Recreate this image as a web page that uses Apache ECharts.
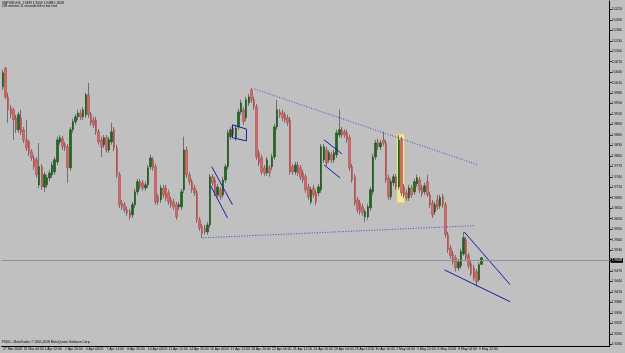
<!DOCTYPE html>
<html><head><meta charset="utf-8">
<script src="https://cdn.jsdelivr.net/npm/echarts@6/dist/echarts.min.js"></script>
<style>html,body{margin:0;padding:0;background:#c0c0c0}#c{width:625px;height:353px}</style>
</head><body><div id="c"></div>
<script>
const openP = [1.9998,2.0052,1.9969,1.9938,1.9932,1.9909,1.9875,1.9909,1.9875,1.9846,
1.9840,1.9812,1.9794,1.9789,1.9717,1.9769,1.9711,1.9717,1.9737,1.9746,
1.9754,1.9783,1.9840,1.9849,1.9832,1.9826,1.9766,1.9875,1.9898,1.9912,
1.9923,1.9912,1.9918,1.9975,1.9918,1.9903,1.9903,1.9869,1.9846,1.9832,
1.9852,1.9817,1.9840,1.9875,1.9823,1.9746,1.9665,1.9660,1.9645,1.9640,
1.9631,1.9660,1.9697,1.9726,1.9723,1.9708,1.9717,1.9769,1.9789,1.9769,
1.9683,1.9674,1.9708,1.9708,1.9694,1.9674,1.9668,1.9660,1.9654,1.9654,
1.9703,1.9817,1.9746,1.9726,1.9708,1.9694,1.9617,1.9597,1.9594,1.9582,
1.9602,1.9740,1.9731,1.9688,1.9703,1.9688,1.9731,1.9769,1.9855,1.9880,
1.9852,1.9883,1.9926,1.9932,1.9909,1.9952,1.9989,1.9961,1.9940,1.9809,
1.9794,1.9766,1.9751,1.9766,1.9769,1.9797,1.9883,1.9926,1.9923,1.9918,
1.9909,1.9903,1.9769,1.9754,1.9774,1.9766,1.9751,1.9740,1.9711,1.9668,
1.9708,1.9694,1.9694,1.9703,1.9789,1.9817,1.9789,1.9803,1.9789,1.9803,
1.9860,1.9875,1.9869,1.9866,1.9852,1.9769,1.9740,1.9674,1.9665,1.9654,
1.9625,1.9625,1.9651,1.9697,1.9797,1.9840,1.9826,1.9846,1.9837,1.9737,
1.9683,1.9723,1.9740,1.9711,1.9846,1.9711,1.9694,1.9680,1.9708,1.9697,
1.9720,1.9731,1.9708,1.9697,1.9726,1.9688,1.9665,1.9640,1.9674,1.9657,
1.9683,1.9660,1.9574,1.9536,1.9519,1.9508,1.9479,1.9485,1.9519,1.9559,
1.9514,1.9491,1.9479,1.9468,1.9445,1.9489];
const closeP = [2.0038,1.9969,1.9932,1.9920,1.9903,1.9875,1.9918,1.9869,1.9846,1.9823,
1.9809,1.9794,1.9769,1.9746,1.9769,1.9711,1.9746,1.9737,1.9751,1.9774,
1.9789,1.9846,1.9852,1.9826,1.9823,1.9766,1.9875,1.9898,1.9912,1.9923,
1.9912,1.9932,1.9975,1.9918,1.9895,1.9889,1.9869,1.9840,1.9826,1.9852,
1.9817,1.9846,1.9869,1.9823,1.9746,1.9660,1.9654,1.9645,1.9637,1.9625,
1.9660,1.9697,1.9726,1.9711,1.9708,1.9717,1.9766,1.9794,1.9766,1.9668,
1.9668,1.9708,1.9688,1.9680,1.9668,1.9660,1.9654,1.9625,1.9660,1.9697,
1.9817,1.9746,1.9726,1.9703,1.9694,1.9617,1.9594,1.9579,1.9582,1.9602,
1.9740,1.9723,1.9694,1.9711,1.9683,1.9731,1.9769,1.9866,1.9875,1.9860,
1.9880,1.9926,1.9952,1.9898,1.9961,1.9969,1.9961,1.9940,1.9797,1.9780,
1.9754,1.9751,1.9789,1.9751,1.9797,1.9883,1.9932,1.9918,1.9909,1.9903,
1.9895,1.9754,1.9754,1.9774,1.9751,1.9740,1.9731,1.9703,1.9683,1.9703,
1.9688,1.9668,1.9711,1.9826,1.9826,1.9780,1.9809,1.9789,1.9809,1.9866,
1.9875,1.9860,1.9860,1.9846,1.9766,1.9731,1.9665,1.9645,1.9640,1.9637,
1.9640,1.9654,1.9703,1.9797,1.9837,1.9826,1.9837,1.9837,1.9731,1.9683,
1.9726,1.9740,1.9711,1.9846,1.9694,1.9688,1.9680,1.9708,1.9688,1.9726,
1.9737,1.9703,1.9691,1.9714,1.9688,1.9660,1.9631,1.9660,1.9654,1.9680,
1.9660,1.9574,1.9531,1.9514,1.9496,1.9479,1.9496,1.9525,1.9565,1.9508,
1.9485,1.9462,1.9450,1.9439,1.9488,1.9508];
const lowP = [1.9989,1.9963,1.9895,1.9909,1.9846,1.9866,1.9866,1.9860,1.9837,1.9814,
1.9800,1.9786,1.9760,1.9737,1.9708,1.9703,1.9697,1.9708,1.9728,1.9737,
1.9746,1.9774,1.9832,1.9817,1.9814,1.9723,1.9757,1.9866,1.9889,1.9903,
1.9903,1.9903,1.9909,1.9909,1.9886,1.9880,1.9860,1.9832,1.9797,1.9823,
1.9809,1.9809,1.9832,1.9814,1.9737,1.9651,1.9645,1.9637,1.9628,1.9617,
1.9622,1.9651,1.9688,1.9703,1.9700,1.9700,1.9708,1.9760,1.9757,1.9660,
1.9660,1.9665,1.9680,1.9671,1.9660,1.9651,1.9645,1.9617,1.9645,1.9645,
1.9694,1.9737,1.9717,1.9694,1.9685,1.9608,1.9585,1.9565,1.9574,1.9574,
1.9594,1.9714,1.9685,1.9680,1.9674,1.9680,1.9723,1.9760,1.9846,1.9852,
1.9843,1.9875,1.9918,1.9889,1.9900,1.9943,1.9952,1.9932,1.9789,1.9771,
1.9746,1.9743,1.9743,1.9740,1.9760,1.9789,1.9875,1.9909,1.9900,1.9895,
1.9886,1.9746,1.9746,1.9746,1.9743,1.9731,1.9723,1.9694,1.9674,1.9660,
1.9680,1.9660,1.9685,1.9694,1.9780,1.9771,1.9780,1.9780,1.9780,1.9794,
1.9852,1.9852,1.9852,1.9837,1.9757,1.9723,1.9657,1.9637,1.9631,1.9628,
1.9611,1.9617,1.9642,1.9688,1.9789,1.9817,1.9817,1.9829,1.9723,1.9674,
1.9674,1.9714,1.9703,1.9703,1.9685,1.9680,1.9671,1.9671,1.9680,1.9688,
1.9711,1.9694,1.9683,1.9688,1.9683,1.9651,1.9622,1.9631,1.9645,1.9648,
1.9651,1.9565,1.9522,1.9505,1.9488,1.9468,1.9471,1.9476,1.9514,1.9499,
1.9476,1.9456,1.9442,1.9425,1.9439,1.9488];
const highP = [2.0046,2.0055,1.9981,1.9946,1.9938,1.9918,1.9926,1.9932,1.9883,1.9903,
1.9846,1.9820,1.9803,1.9797,1.9837,1.9777,1.9754,1.9746,1.9760,1.9783,
1.9797,1.9855,1.9860,1.9857,1.9840,1.9834,1.9883,1.9906,1.9920,1.9932,
1.9932,1.9940,1.9981,2.0009,1.9926,1.9912,1.9912,1.9877,1.9855,1.9860,
1.9860,1.9855,1.9895,1.9883,1.9832,1.9754,1.9674,1.9668,1.9654,1.9648,
1.9668,1.9706,1.9734,1.9734,1.9731,1.9726,1.9774,1.9803,1.9797,1.9777,
1.9691,1.9717,1.9717,1.9717,1.9703,1.9683,1.9677,1.9668,1.9668,1.9706,
1.9855,1.9826,1.9754,1.9734,1.9717,1.9703,1.9625,1.9605,1.9602,1.9611,
1.9748,1.9748,1.9740,1.9720,1.9711,1.9740,1.9777,1.9875,1.9883,1.9889,
1.9889,1.9935,1.9961,1.9940,1.9969,1.9978,1.9995,1.9969,1.9949,1.9817,
1.9803,1.9774,1.9797,1.9774,1.9806,1.9892,1.9961,1.9935,1.9932,1.9926,
1.9918,1.9912,1.9777,1.9783,1.9783,1.9774,1.9760,1.9748,1.9720,1.9711,
1.9717,1.9703,1.9720,1.9834,1.9834,1.9826,1.9817,1.9812,1.9817,1.9875,
1.9932,1.9883,1.9877,1.9875,1.9860,1.9777,1.9748,1.9683,1.9674,1.9663,
1.9648,1.9663,1.9711,1.9806,1.9846,1.9849,1.9846,1.9869,1.9846,1.9746,
1.9734,1.9748,1.9748,1.9860,1.9855,1.9720,1.9703,1.9717,1.9717,1.9734,
1.9746,1.9740,1.9717,1.9723,1.9746,1.9697,1.9674,1.9668,1.9688,1.9688,
1.9691,1.9668,1.9582,1.9545,1.9528,1.9516,1.9505,1.9534,1.9582,1.9568,
1.9522,1.9499,1.9488,1.9476,1.9494,1.9509];

const xTickLabels = ['27 Mar 2008','31 Mar 04:00','1 Apr 12:00','2 Apr 20:00','4 Apr 04:00','7 Apr 12:00',
'8 Apr 20:00','10 Apr 04:00','11 Apr 12:00','14 Apr 20:00','16 Apr 04:00','17 Apr 12:00','18 Apr 20:00',
'22 Apr 04:00','23 Apr 12:00','24 Apr 20:00','28 Apr 04:00','29 Apr 12:00','30 Apr 20:00','2 May 04:00',
'5 May 12:00','6 May 20:00','8 May 04:00','9 May 12:00'];
const yTickValues = [2.0220,2.0190,2.0160,2.0130,2.0100,2.0070,2.0040,2.0010,1.9980,1.9950,1.9920,
1.9890,1.9860,1.9830,1.9800,1.9770,1.9740,1.9710,1.9680,1.9650,1.9620,1.9590,1.9560,1.9530,1.9500,
1.9470,1.9440,1.9410,1.9380,1.9350,1.9320,1.9290,1.9260];
const currentPrice = 1.9508;
const headerLines = ['GBPUSD,H4  1.9489 1.9509 1.9488 1.9508', '228 minutes 11 seconds left to bar end'];
const footerText = 'FXDD - MetaTrader, \u00a9 2001-2008 MetaQuotes Software Corp.';
// drawn objects, in [bar index, price]
const dottedLines = [
  [[97.2, 1.9992], [183.7, 1.9774]],
  [[77.2, 1.9565], [182.2, 1.9600]]
];
const solidLines = [
  [[80.7, 1.9769], [88.7, 1.9660]],
  [[80.3, 1.9714], [86.8, 1.9622]],
  [[88.7, 1.9889], [94.1, 1.9877]],
  [[88.7, 1.9852], [94.1, 1.9843]],
  [[88.7, 1.9889], [88.7, 1.9852]],
  [[94.1, 1.9877], [94.1, 1.9843]],
  [[124.1, 1.9846], [131.0, 1.9806]],
  [[124.1, 1.9774], [130.3, 1.9737]],
  [[178.3, 1.9582], [196.0, 1.9431]],
  [[170.7, 1.9473], [196.0, 1.9382]]
];
const highlightBox = [[152.2, 1.9863], [155.3, 1.9665]];
const SLOTS = 235;

const cats = [];
for (let i = 0; i < SLOTS; i++) cats.push(String(i));
const wickData = openP.map((o, i) => [o, closeP[i], lowP[i], highP[i]]);
const bodyData = openP.map((o, i) => [o, closeP[i], Math.min(o, closeP[i]), Math.max(o, closeP[i])]);
const showTick = (idx) => idx % 8 === 0 && idx / 8 < xTickLabels.length;
const FONT = 'Liberation Sans';

const series = [
  {
    type: 'line', xAxisIndex: 1, yAxisIndex: 0, data: [], z: 1, silent: true,
    markArea: {
      silent: true,
      itemStyle: { color: '#f3e9a6', borderColor: '#d9c46a', borderWidth: 1 },
      data: [[{ coord: highlightBox[0] }, { coord: highlightBox[1] }]]
    }
  },
  {
    type: 'candlestick', name: 'wick', data: wickData, barWidth: 1, z: 2, silent: true,
    itemStyle: { color: '#6e6e6e', color0: '#6e6e6e', borderColor: '#6e6e6e', borderColor0: '#6e6e6e', borderWidth: 1 },
    markLine: {
      silent: true, symbol: 'none',
      lineStyle: { color: '#8f8f98', width: 1, type: 'solid' },
      label: { position: 'end', distance: 1, formatter: currentPrice.toFixed(4), color: '#ffffff',
        backgroundColor: '#000000', fontSize: 3.4, fontFamily: FONT, padding: [1, 1, 0.5, 1] },
      data: [{ yAxis: currentPrice }]
    }
  },
  {
    type: 'candlestick', name: 'body', data: bodyData, barWidth: 2, z: 3, silent: true,
    itemStyle: { color: '#1f661f', color0: '#cf6a6a', borderColor: '#145214', borderColor0: '#b94848', borderWidth: 0.6 }
  }
];
dottedLines.forEach(l => series.push({
  type: 'line', xAxisIndex: 1, yAxisIndex: 0, data: l, symbol: 'none', z: 4, silent: true,
  lineStyle: { color: '#4646c8', width: 1, type: [1, 1.6] }
}));
solidLines.forEach(l => series.push({
  type: 'line', xAxisIndex: 1, yAxisIndex: 0, data: l, symbol: 'none', z: 4, silent: true,
  lineStyle: { color: '#1a1aa8', width: 1 }
}));

const chart = echarts.init(document.getElementById('c'), null, { renderer: 'canvas' });
chart.setOption({
  backgroundColor: '#c0c0c0',
  animation: false,
  grid: { left: 1, right: 13, top: 1, bottom: 7, show: false },
  xAxis: [
    {
      type: 'category', data: cats, boundaryGap: true,
      axisLine: { onZero: false, lineStyle: { color: '#000', width: 1 } },
      axisTick: { interval: (i) => showTick(i), alignWithLabel: true, length: 3, lineStyle: { color: '#000' } },
      axisLabel: { interval: (i) => showTick(i), formatter: (v, i) => xTickLabels[i / 8] || '',
        align: 'left', fontSize: 3.4, fontFamily: FONT, color: '#000', margin: 1.5 },
      splitLine: { show: false }
    },
    { type: 'value', min: -0.5, max: SLOTS - 0.5, show: false }
  ],
  yAxis: {
    type: 'value', position: 'right', min: 1.9255, max: 2.0244, scale: true,
    axisLine: { show: true, onZero: false, lineStyle: { color: '#000', width: 1 } },
    axisTick: { show: true, customValues: yTickValues, length: 2, lineStyle: { color: '#000' } },
    axisLabel: { customValues: yTickValues, formatter: (v) => v.toFixed(4), fontSize: 3.4,
      fontFamily: FONT, color: '#000', margin: 2 },
    splitLine: { show: false }
  },
  graphic: [
    { type: 'text', left: 2, top: 2, style: { text: headerLines[0], fontSize: 3.2, fontFamily: FONT, fill: '#000' } },
    { type: 'text', left: 2, top: 5, style: { text: headerLines[1], fontSize: 3.2, fontFamily: FONT, fill: '#000' } },
    { type: 'text', left: 2, top: 341, style: { text: footerText, fontSize: 3.2, fontFamily: FONT, fill: '#000' } }
  ],
  series: series
});
</script>
</body></html>
